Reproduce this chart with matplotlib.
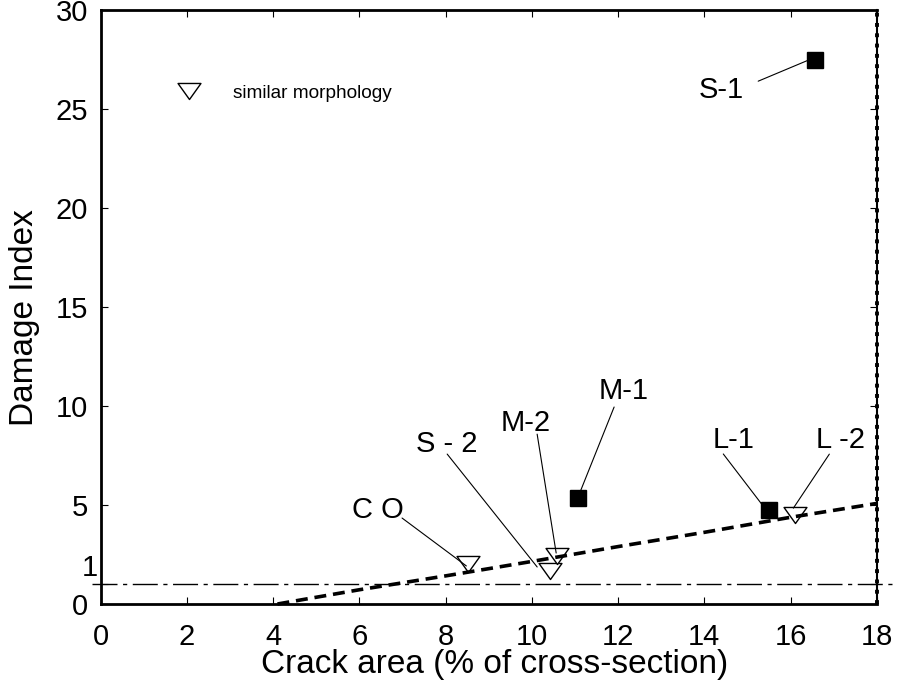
import matplotlib
matplotlib.use('Agg')
import matplotlib.pyplot as plt
from matplotlib.path import Path
from matplotlib.text import OffsetFrom
from matplotlib.lines import Line2D

# ---------------- data ----------------
filled_labels = ['S-1', 'M-1', 'L-1']
filled_x = [16.57, 11.08, 15.49]
filled_y = [27.5, 5.34, 4.75]

open_labels = ['C O', 'S - 2', 'M-2', 'L -2']
open_x = [8.51, 10.41, 10.58, 16.11]
open_y = [2.02, 1.68, 2.42, 4.49]

fit_x = [4.1, 6.0, 8.0, 10.0, 12.0, 14.0, 16.0, 18.0]
fit_y = [0.0, 0.72, 1.42, 2.15, 2.9, 3.62, 4.38, 5.08]

threshold_y = 1

x_ticks = [0, 2, 4, 6, 8, 10, 12, 14, 16, 18]
y_ticks = [0, 1, 5, 10, 15, 20, 25, 30]
y_tick_labels = ['0', '', '5', '10', '15', '20', '25', '30']

x_label = 'Crack area (% of cross-section)'
y_label = 'Damage Index'
legend_label = 'similar morphology'

# ---------------- style (offsets in points from the marker) ----------------
label_style = {
    'S-1':   dict(text=(-67.3, -27.9), start=(-41.0, -15.6), end=(-5.0, -0.5)),
    'M-1':   dict(text=(32.2, 71.5), start=(25.7, 65.7), end=(1.2, 4.5)),
    'L-1':   dict(text=(-25.1, 44.6), start=(-32.6, 40.3), end=(-4.5, 3.6)),
    'C O':   dict(text=(-64.3, 33.1), start=(-47.2, 33.1), end=(-0.9, -1.4)),
    'S - 2': dict(text=(-74.0, 85.5), start=(-73.7, 84.0), end=(-8.9, 2.7)),
    'M-2':   dict(text=(-22.1, 90.0), start=(-14.2, 87.8), end=(-0.5, 2.2)),
    'L -2':  dict(text=(32.4, 48.2), start=(24.5, 43.9), end=(-1.4, 5.0)),
}

plt.rcParams['font.family'] = ['Liberation Sans', 'DejaVu Sans']

fig = plt.figure(figsize=(8.99, 6.91), dpi=100)
ax = fig.add_axes([0.112, 0.1259, 0.8633, 0.8596])

tri = Path([(-1.0, 0.7), (1.0, 0.7), (0.0, -0.7), (-1.0, 0.7)],
           [Path.MOVETO, Path.LINETO, Path.LINETO, Path.CLOSEPOLY])

# threshold dash-dot line
ax.axhline(threshold_y, xmin=-0.011, xmax=1.021, color='black', lw=1.0,
           linestyle=(0, (18, 4, 3, 4)), clip_on=False, zorder=2)

# markers
ax.plot(open_x, open_y, linestyle='none', marker=tri, ms=16.5,
        mfc='white', mec='black', mew=1.0, zorder=3)
ax.plot(filled_x, filled_y, linestyle='none', marker='s', ms=11.5,
        mfc='black', mec='black', zorder=3)

# fitted dashed line
ax.plot(fit_x, fit_y, color='black', lw=2.6, linestyle=(0, (3.3, 1.9)),
        zorder=4, clip_on=False)

# labels and leaders
def annotate(lbl, x, y):
    st = label_style[lbl]
    ax.annotate(lbl, xy=(x, y), xytext=st['text'], textcoords='offset points',
                ha='center', va='baseline', fontsize=21)
    ref = OffsetFrom(ax.transData, (x, y), unit='points')
    ax.annotate('', xy=st['end'], xycoords=ref, xytext=st['start'],
                textcoords=ref,
                arrowprops=dict(arrowstyle='-', lw=0.8, color='black',
                                shrinkA=0, shrinkB=0))

for lbl, x, y in zip(filled_labels, filled_x, filled_y):
    annotate(lbl, x, y)
for lbl, x, y in zip(open_labels, open_x, open_y):
    annotate(lbl, x, y)

# axes
ax.set_xlim(0, 18)
ax.set_ylim(0, 30)
ax.set_xticks(x_ticks)
ax.set_yticks(y_ticks)
ax.set_yticklabels(y_tick_labels)
ax.tick_params(direction='in', top=True, right=True, length=5, width=0.8,
               labelsize=21)
ax.tick_params(axis='x', pad=14)
ax.tick_params(axis='y', pad=9)
for s in ax.spines.values():
    s.set_linewidth(2.0)
ax.spines['right'].set_linewidth(1.5)
ax.axvline(18, color='black', lw=2.8, linestyle=':', clip_on=False, zorder=5)

# special "1" label for the threshold
ax.text(-0.06, 1.82, '1', ha='right', va='center', fontsize=21, clip_on=False)

ax.set_xlabel(x_label, fontsize=24)
ax.set_ylabel(y_label, fontsize=24)
ax.xaxis.set_label_coords(0.507, -0.076)
ax.yaxis.set_label_coords(-0.078, 0.4815)

# legend
handle = Line2D([], [], linestyle='none', marker=tri, ms=16.5,
                mfc='white', mec='black', mew=1.0)
ax.legend([handle], [legend_label], loc='center left',
          bbox_to_anchor=(0.0893, 0.860), frameon=False, fontsize=13.7,
          handlelength=2.0, handletextpad=1.3, borderpad=0, borderaxespad=0)

fig.savefig('out.png', dpi=100)
